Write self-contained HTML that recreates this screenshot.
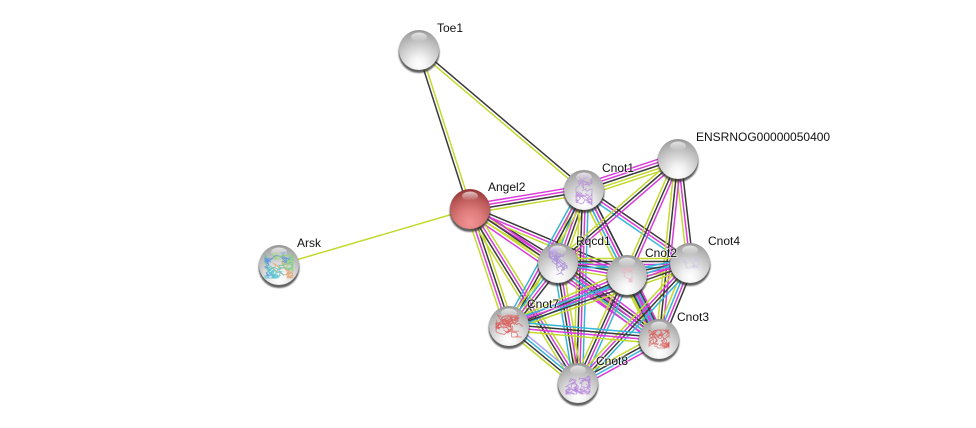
<!DOCTYPE html>
<html><head><meta charset="utf-8"><style>
html,body{margin:0;padding:0;background:#fff;width:976px;height:428px;overflow:hidden}
svg{display:block}
text{font:12px "Liberation Sans",Arial,sans-serif;fill:#111;paint-order:stroke;stroke:rgba(255,255,255,.5);stroke-width:2px}
</style></head><body>
<svg id="s" width="976" height="428" viewBox="0 0 976 428" xmlns="http://www.w3.org/2000/svg">
<defs>
<radialGradient id="g" cx=".5" cy=".85" r=".92"><stop offset="0" stop-color="#fff"/><stop offset=".2" stop-color="#f3f3f3"/><stop offset=".55" stop-color="#cbcbcb"/><stop offset=".85" stop-color="#a6a6a6"/><stop offset="1" stop-color="#7c7c7c"/></radialGradient>
<radialGradient id="r" cx=".5" cy=".85" r=".92"><stop offset="0" stop-color="#f39393"/><stop offset=".35" stop-color="#de7c7c"/><stop offset=".7" stop-color="#b95656"/><stop offset=".92" stop-color="#933636"/><stop offset="1" stop-color="#7a2020"/></radialGradient>
<linearGradient id="h" x1="0" y1="0" x2="0" y2="1"><stop offset="0" stop-color="#fff" stop-opacity=".7"/><stop offset="1" stop-color="#fff" stop-opacity=".02"/></linearGradient>
<filter id="b" x="-30%" y="-30%" width="160%" height="160%"><feGaussianBlur stdDeviation=".9"/></filter>
</defs>
<g id="e" fill="none" stroke-width="1.5"></g>
<g id="n"></g>
<g id="t">
<text x="437" y="32">Toe1</text>
<text x="488" y="191">Angel2</text>
<text x="297" y="247">Arsk</text>
<text x="602" y="172">Cnot1</text>
<text x="696" y="141">ENSRNOG00000050400</text>
<text x="576" y="245">Rqcd1</text>
<text x="645" y="257">Cnot2</text>
<text x="708" y="245">Cnot4</text>
<text x="527" y="308">Cnot7</text>
<text x="677" y="321">Cnot3</text>
<text x="596" y="365">Cnot8</text>
</g>
</svg>
<script>
var N={T:[419,50],A:[470,209],R:[279,265],1:[584,190],E:[678,159],Q:[558,263],2:[627,275],4:[690,263],7:[509,326],3:[659,339],8:[578,383]};
var C={k:'#3a3a3a',y:'#c3d92e',m:'#d93cd9',c:'#35b6d8',p:'#a8a0f5'};
var L=[['T','A','yk'],['T','1','ky'],['R','A','y'],['A','1','mmky'],['A','Q','kmy'],['A','2','kmy'],['A','7','ykmy'],['A','3','mkym'],['A','8','ymky'],
['1','E','mmkyy'],['1','Q','ykmcy'],['1','2','kmcy'],['1','4','kmc'],['1','7','ykmc'],['1','3','kmcy'],['1','8','cmky'],
['E','Q','mky'],['E','2','mky'],['E','4','kmy'],['E','3','mky'],
['Q','2','ckmy'],['Q','4','ykmc'],['Q','7','kmcy'],['Q','3','mkmcm'],['Q','8','ymkc'],
['2','4','ckmy'],['2','7','ckmy'],['2','3','mcmky'],['2','8','cmky'],
['4','7','ykmc'],['4','3','kmcy'],['4','8','ckmy'],
['7','3','ckmy'],['7','8','pcky'],['3','8','mcky']];
var NS='http://www.w3.org/2000/svg';
function el(p,t,a){var x=document.createElementNS(NS,t);for(var k in a)x.setAttribute(k,a[k]);p.appendChild(x);return x}
var E=document.getElementById('e');
L.forEach(function(l){var a=N[l[0]],b=N[l[1]],dx=b[0]-a[0],dy=b[1]-a[1],d=Math.hypot(dx,dy),nx=-dy/d,ny=dx/d,n=l[2].length;
for(var i=0;i<n;i++){var o=(i-(n-1)/2)*3;el(E,'line',{x1:a[0]+nx*o,y1:a[1]+ny*o,x2:b[0]+nx*o,y2:b[1]+ny*o,stroke:C[l[2][i]]})}});
var G=document.getElementById('n');
var S={1:['#b98fdc',8,15,5],Q:['#ab8cdc',9,15,5],2:['#e8b4c2',5,7,2],4:['#cfc8e2',9,5,2],7:['#d9605c',13,11,7],3:['#d9605c',10,9,6],8:['#b585dc',12,11,6]};
var seed=7;function rnd(){seed=(seed*16807)%2147483647;return seed/2147483647}
function walk(x,y,col,w,rx,ry,cnt,op){var px=(rnd()*2-1)*rx,py=(rnd()*2-1)*ry,d='M'+(x+px).toFixed(1)+' '+(y+py).toFixed(1);
for(var i=0;i<cnt;i++){px=Math.max(-rx,Math.min(rx,px+(rnd()*2-1)*5));py=Math.max(-ry,Math.min(ry,py+(rnd()*2-1)*4));d+='L'+(x+px).toFixed(1)+' '+(y+py).toFixed(1)}
el(G,'path',{d:d,fill:'none',stroke:col,'stroke-width':w,opacity:op})}
Object.keys(N).forEach(function(k){var c=N[k],x=c[0],y=c[1];
el(G,'circle',{cx:x,cy:y+2.5,r:20.5,fill:'#2a2a2a',opacity:.75,filter:'url(#b)'});
el(G,'circle',{cx:x,cy:y,r:20,fill:k=='A'?'url(#r)':'url(#g)'});
if(k=='R'){['#5fc8a8','#e0a878','#5a94dc','#98d478','#5cc8d0','#5fc8a8','#e0a878','#5a94dc','#98d478','#5cc8d0'].forEach(function(q){walk(x,y,q,.9,14,13,26,.85)})}
else if(S[k]){var s=S[k];for(var i=0;i<s[3];i++)walk(x,y,s[0],.8,s[1],s[2],24,.8)}
el(G,'ellipse',{cx:x,cy:y-13,rx:8,ry:4.5,fill:'url(#h)'});
});
</script>
</body></html>
